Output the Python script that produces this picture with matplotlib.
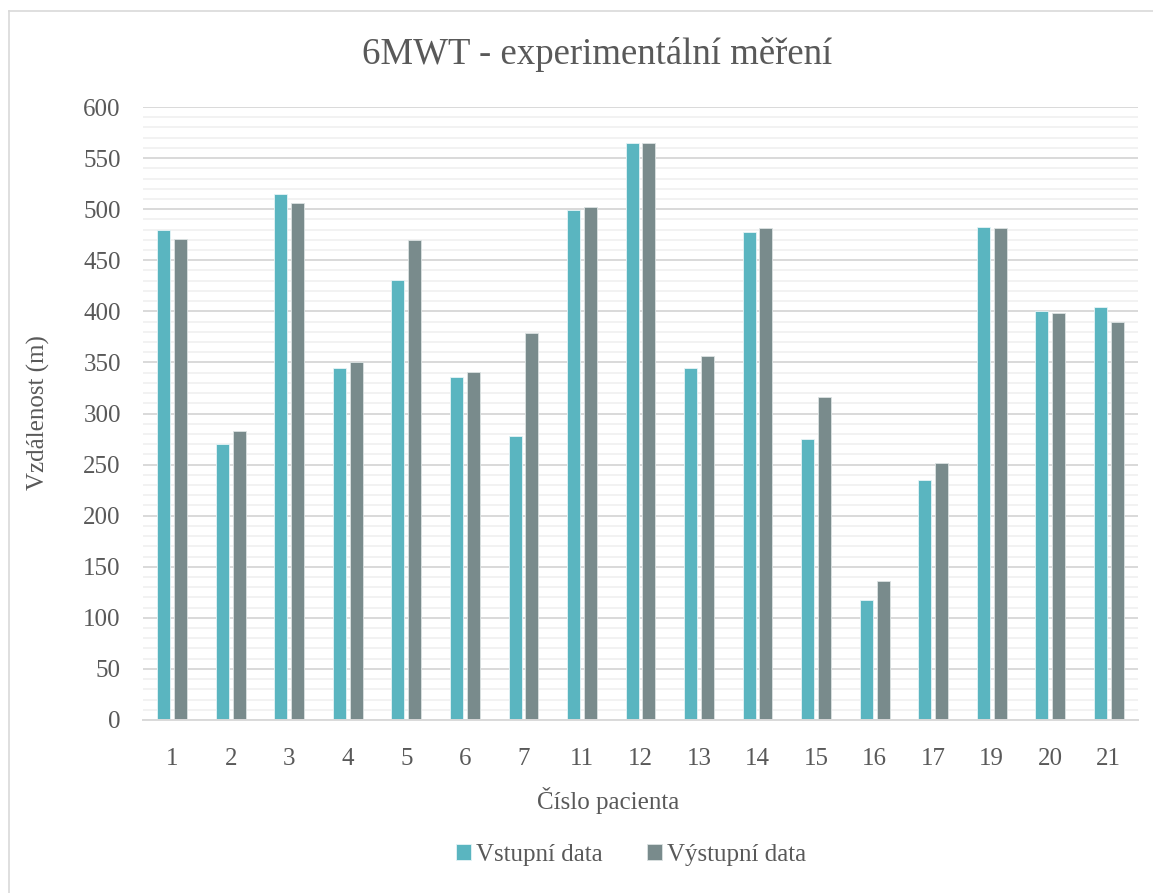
import numpy as np
import matplotlib
matplotlib.use("Agg")
from matplotlib import pyplot as plt
from matplotlib.lines import Line2D

patients = ["1", "2", "3", "4", "5", "6", "7", "11", "12", "13", "14", "15", "16", "17", "19", "20", "21"]
vstup = [480, 270, 515, 345, 431, 336, 278, 499, 565, 345, 478, 275, 117, 235, 483, 400, 404]
vystup = [471, 283, 506, 350, 470, 341, 379, 502, 565, 356, 482, 316, 136, 252, 482, 398, 390]

W, H = 1153, 893
plt.rcParams['font.family'] = ['Liberation Serif', 'DejaVu Serif']
txt = "#595959"

fig = plt.figure(figsize=(W / 100, H / 100), dpi=100)
ax = fig.add_axes([143 / W, 1 - 720 / H, (1138 - 143) / W, (720 - 107) / H])

x = np.arange(len(patients))
bw = 0.222
off = 0.144
ax.bar(x - off, vstup, bw, color="#5AB5C0", edgecolor="#E6F4F6", linewidth=0.6, label="Vstupní data", zorder=3)
ax.bar(x + off, vystup, bw, color="#798B8C", edgecolor="#DCE2E2", linewidth=0.6, label="Výstupní data", zorder=3)

ax.set_xlim(-0.5, len(patients) - 0.5)
ax.set_ylim(0, 600)
ax.set_yticks(np.arange(0, 601, 50))
ax.set_yticks(np.arange(0, 601, 10), minor=True)
ax.grid(axis="y", which="minor", color="#F2F2F2", linewidth=1.4, zorder=0)
ax.grid(axis="y", which="major", color="#D9D9D9", linewidth=1.4, zorder=1)
ax.set_xticks(x)
ax.set_xticklabels(patients)
ax.tick_params(axis="both", which="both", length=0, labelsize=18, labelcolor=txt)
ax.tick_params(axis="x", pad=20)
ax.tick_params(axis="y", pad=16)
for s in ["top", "right", "left"]:
    ax.spines[s].set_visible(False)
ax.spines["bottom"].set_color("#D9D9D9")
ax.spines["bottom"].set_linewidth(1.4)
ax.spines["bottom"].set_zorder(4)

fig.text(597 / W, 1 - 55 / H, "6MWT - experimentální měření", ha="center", va="center", fontsize=26.5, color=txt)
fig.text(608 / W, 1 - 801 / H, "Číslo pacienta", ha="center", va="center", fontsize=18, color=txt)
fig.text(38 / W, 1 - 413 / H, "Vzdálenost (m)", ha="center", va="center", rotation=90, fontsize=18, color=txt)

fig.legend(loc="center", bbox_to_anchor=(631 / W, 1 - 855 / H), ncol=2, frameon=False,
           fontsize=18, labelcolor=txt, handlelength=0.6, handleheight=0.6, handletextpad=0.2,
           columnspacing=1.8)

# chart border (left and top visible)
fig.add_artist(Line2D([9 / W, 9 / W], [0, 1 - 11 / H], color="#D9D9D9", linewidth=1.2))
fig.add_artist(Line2D([9 / W, 1], [1 - 11 / H, 1 - 11 / H], color="#D9D9D9", linewidth=1.2))

fig.savefig("out.png", dpi=100, facecolor="white")
